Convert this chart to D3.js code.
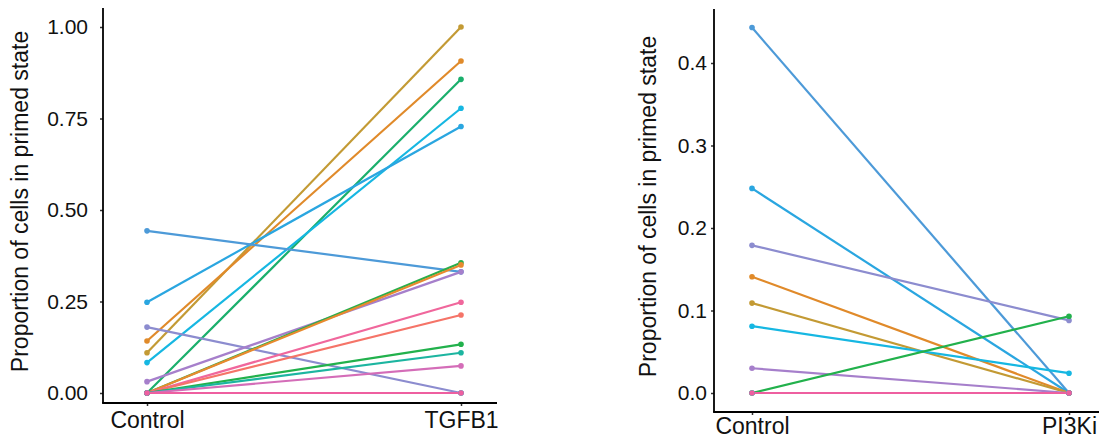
<!DOCTYPE html>
<html>
<head>
<meta charset="utf-8">
<script src="https://cdn.jsdelivr.net/npm/d3@7"></script>
<style>
  body { margin: 0; background: #fff; }
  svg { display: block; font-family: "Liberation Sans", Arial, Helvetica, sans-serif; }
</style>
</head>
<body>
<svg id="chart" width="1099" height="443"></svg>
<script>
// ---- data ----
const yTitle = "Proportion of cells in primed state";

const tgfbConditions = ["Control", "TGFB1"];
const tgfbControl = [0.110, 0.142, 0, 0.083, 0.248, 0.443, 0.180, 0.031, 0, 0, 0, 0, 0, 0, 0, 0, 0];
const tgfbTreated = [1.000, 0.907, 0.857, 0.778, 0.728, 0.331, 0, 0.331, 0.356, 0.350, 0.248, 0.213, 0.133, 0.110, 0.074, 0, 0];
const tgfbColors = ["#C39A34", "#E08A2A", "#1AAF6C", "#16B7E2", "#2AA6E0", "#4D9AD8", "#8C8CCF", "#A67FCB",
                    "#2AAE4A", "#E88A2E", "#F0679C", "#F57468", "#22B14C", "#1CB5A0", "#D46DB8", "#1CB8C4", "#EE5FA0"];
const tgfbTicks = [0, 0.25, 0.5, 0.75, 1.0];

const pi3kConditions = ["Control", "PI3Ki"];
const pi3kControl = [0.443, 0.248, 0.179, 0.141, 0.109, 0.081, 0.030, 0, 0, 0];
const pi3kTreated = [0, 0, 0.088, 0, 0, 0.024, 0, 0.093, 0, 0];
const pi3kColors = ["#4D9AD8", "#2AA6E0", "#8C8CCF", "#E08A2A", "#C39A34", "#16B7E2", "#A67FCB", "#22B14C", "#1CB8C4", "#EE5FA0"];
const pi3kTicks = [0, 0.1, 0.2, 0.3, 0.4];

const svg = d3.select("#chart");

function drawPanel(cfg) {
    const g = svg.append("g");

    const x = d3.scalePoint().domain(cfg.conditions).range(cfg.xPos);
    const y = d3.scaleLinear().domain([0, cfg.yMax]).range([cfg.y0, cfg.yMaxPx]);

    const rows = cfg.control.map((c, i) => ({
        color: cfg.colors[i],
        pts: [[cfg.conditions[0], c], [cfg.conditions[1], cfg.treated[i]]]
    }));

    // axes
    const yAxis = d3.axisLeft(y).tickValues(cfg.ticks).tickFormat(d3.format(cfg.fmt)).tickSize(3).tickPadding(cfg.tickPad);
    const yg = g.append("g").attr("transform", `translate(${cfg.axisX},0)`).call(yAxis);
    yg.select(".domain").remove();
    yg.selectAll("line").attr("stroke", "#333").attr("stroke-width", 1.5);
    yg.selectAll("text").attr("font-size", 21).attr("fill", "#111").attr("font-family", "Liberation Sans, Arial, sans-serif");

    const xAxis = d3.axisBottom(x).tickSize(3).tickPadding(cfg.xPad);
    const xg = g.append("g").attr("transform", `translate(0,${cfg.axisY})`).call(xAxis);
    xg.select(".domain").remove();
    xg.selectAll("line").attr("stroke", "#333").attr("stroke-width", 1.5);
    xg.selectAll("text").attr("font-size", 23).attr("fill", "#111").attr("font-family", "Liberation Sans, Arial, sans-serif");

    g.append("line").attr("x1", cfg.axisX).attr("x2", cfg.axisX).attr("y1", cfg.axisTop).attr("y2", cfg.axisY)
        .attr("stroke", "#000").attr("stroke-width", 1.8);
    g.append("line").attr("x1", cfg.axisX - 0.9).attr("x2", cfg.axisRight).attr("y1", cfg.axisY).attr("y2", cfg.axisY)
        .attr("stroke", "#000").attr("stroke-width", 1.8);

    g.append("text")
        .attr("transform", `translate(${cfg.titleX},${(cfg.axisTop + cfg.axisY) / 2 - 4}) rotate(-90)`)
        .attr("text-anchor", "middle")
        .attr("font-size", 23)
        .attr("fill", "#111")
        .text(yTitle);

    // lines then points
    const line = d3.line().x(d => x(d[0])).y(d => y(d[1]));
    g.append("g").selectAll("path").data(rows).join("path")
        .attr("d", d => line(d.pts))
        .attr("fill", "none")
        .attr("stroke", d => d.color)
        .attr("stroke-width", 2.2);

    const pts = rows.flatMap(r => r.pts.map(p => ({color: r.color, c: p[0], v: p[1]})));
    g.append("g").selectAll("circle").data(pts).join("circle")
        .attr("cx", d => x(d.c))
        .attr("cy", d => y(d.v))
        .attr("r", 2.8)
        .attr("fill", d => d.color);
}

drawPanel({
    conditions: tgfbConditions, control: tgfbControl, treated: tgfbTreated, colors: tgfbColors,
    ticks: tgfbTicks, fmt: ".2f", yMax: 1, y0: 393, yMaxPx: 27,
    xPos: [147, 461], axisX: 103, axisY: 403, axisTop: 8, axisRight: 497, tickPad: 12, xPad: 6, titleX: 28
});

drawPanel({
    conditions: pi3kConditions, control: pi3kControl, treated: pi3kTreated, colors: pi3kColors,
    ticks: pi3kTicks, fmt: ".1f", yMax: 0.4, y0: 393, yMaxPx: 63,
    xPos: [752, 1069], axisX: 714, axisY: 412, axisTop: 9, axisRight: 1099, tickPad: 4, xPad: 3, titleX: 656
});
</script>
</body>
</html>
